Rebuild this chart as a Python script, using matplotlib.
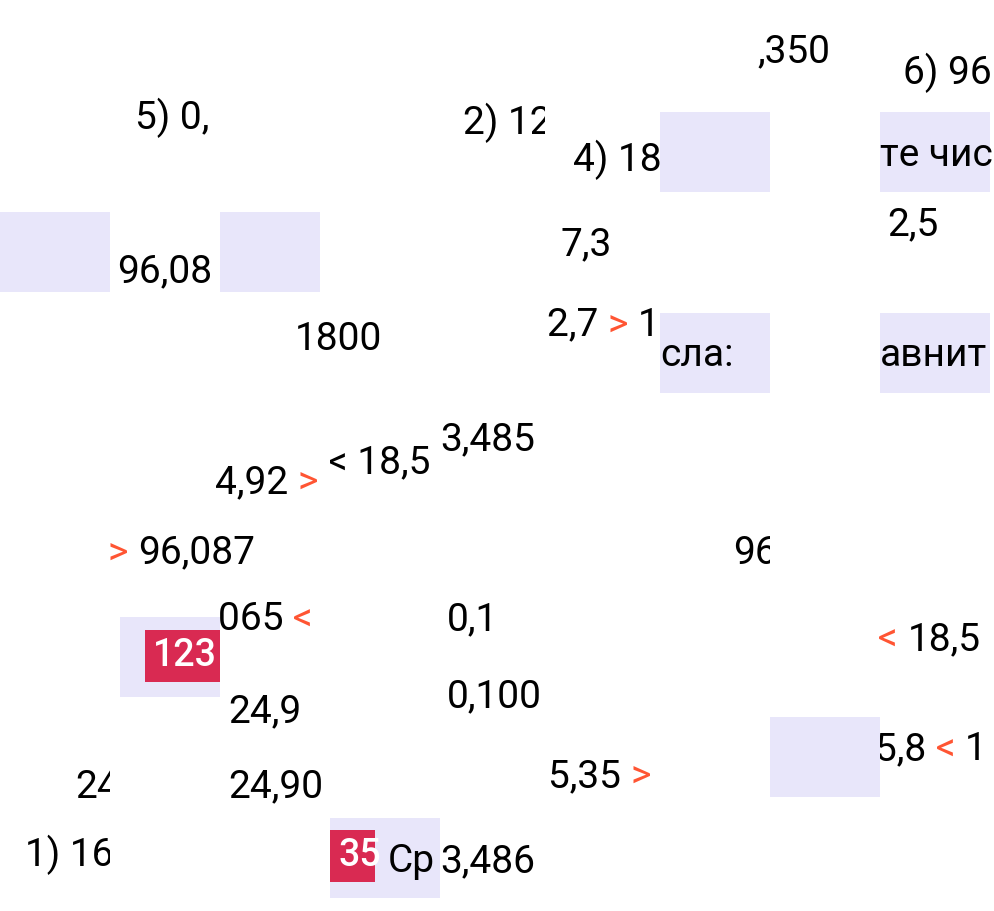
import matplotlib.pyplot as plt
from matplotlib.transforms import Bbox
from matplotlib.patches import Rectangle

W, H = 995, 911
plt.rcParams['font.family'] = ['Roboto', 'DejaVu Sans']

# lavender tiles: left, top, width, height (pixels)
lav_tiles = [(0, 212, 110, 80), (220, 212, 100, 80), (660, 112, 110, 80), (880, 112, 110, 80),
             (660, 313, 110, 80), (880, 313, 110, 80), (120, 617, 100, 80), (770, 717, 110, 80),
             (330, 818, 110, 80)]
# red badges: left, top, width, height, label
badges = [(145, 630, 75, 52, "123"), (330, 830, 45, 52, "35")]
# text pieces: x, y, parts (text, colour), clip left, clip right
texts = [
    (135, 118, [("5) 0,", "k")], 0, 220),
    (463, 123, [("2) 12", "k")], 440, 545),
    (573, 160, [("4) 18", "k")], 550, 660),
    (757, 52, [(",350", "k")], 757, 880),
    (903, 73, [("6) 96", "k")], 880, 995),
    (880, 155, [("те чис", "k")], 880, 995),
    (887, 225, [("2,5", "k")], 880, 995),
    (117, 272, [("96,08", "k")], 110, 220),
    (560, 245, [("7,3", "k")], 550, 660),
    (295, 340, [("1800", "k")], 295, 440),
    (547, 325, [("2,7 ", "k"), ("> ", "#ff5533"), ("1", "k")], 547, 660),
    (660, 355, [("сла:", "k")], 660, 770),
    (880, 355, [("авнит", "k")], 880, 995),
    (215, 483, [("4,92 ", "k"), (">", "#ff5533")], 215, 330),
    (328, 463, [("< 18,5", "k")], 330, 440),
    (440, 440, [("3,485", "k")], 440, 550),
    (108, 553, [("> ", "#ff5533"), ("96,087", "k")], 100, 330),
    (733, 553, [("96", "k")], 700, 770),
    (218, 620, [("065 ", "k"), ("<", "#ff5533")], 218, 330),
    (447, 620, [("0,1", "k")], 440, 550),
    (878, 640, [("< ", "#ff5533"), ("18,5", "k")], 878, 995),
    (228, 712, [("24,9", "k")], 220, 330),
    (447, 697, [("0,100", "k")], 440, 550),
    (75, 787, [("24", "k")], 0, 110),
    (228, 787, [("24,90", "k")], 220, 330),
    (548, 777, [("5,35 ", "k"), (">", "#ff5533")], 550, 660),
    (875, 750, [("5,8 ", "k"), ("< ", "#ff5533"), ("1", "k")], 880, 995),
    (25, 855, [("1) 16", "k")], 0, 110),
    (388, 862, [("Ср", "k")], 375, 440),
    (440, 862, [("3,486", "k")], 440, 550),
]

fig = plt.figure(figsize=(W / 100, H / 100), dpi=100)
ax = fig.add_axes([0, 0, 1, 1])
ax.set_xlim(0, W)
ax.set_ylim(H, 0)
ax.axis('off')

for x, y, w, h in lav_tiles:
    ax.add_patch(Rectangle((x, y), w, h, color='#e8e6fa', lw=0))
for x, y, w, h, s in badges:
    ax.add_patch(Rectangle((x, y), w, h, color='#d92a52', lw=0))
    ax.text(x + 8, y + h / 2, s, color='white', fontsize=27, fontweight='medium',
            va='center', ha='left', clip_on=True, clip_box=Bbox([[x, 0], [x + w, H]]))

fig.canvas.draw()
r = fig.canvas.get_renderer()
for x, y, parts, c0, c1 in texts:
    cx = x
    for s, col in parts:
        t = ax.text(cx, y, s, color=col, fontsize=28, va='center', ha='left')
        t.set_clip_box(Bbox([[c0, 0], [c1, H]]))
        t.set_clip_on(True)
        cx += t.get_window_extent(r).width

fig.savefig('out.png', dpi=100)
